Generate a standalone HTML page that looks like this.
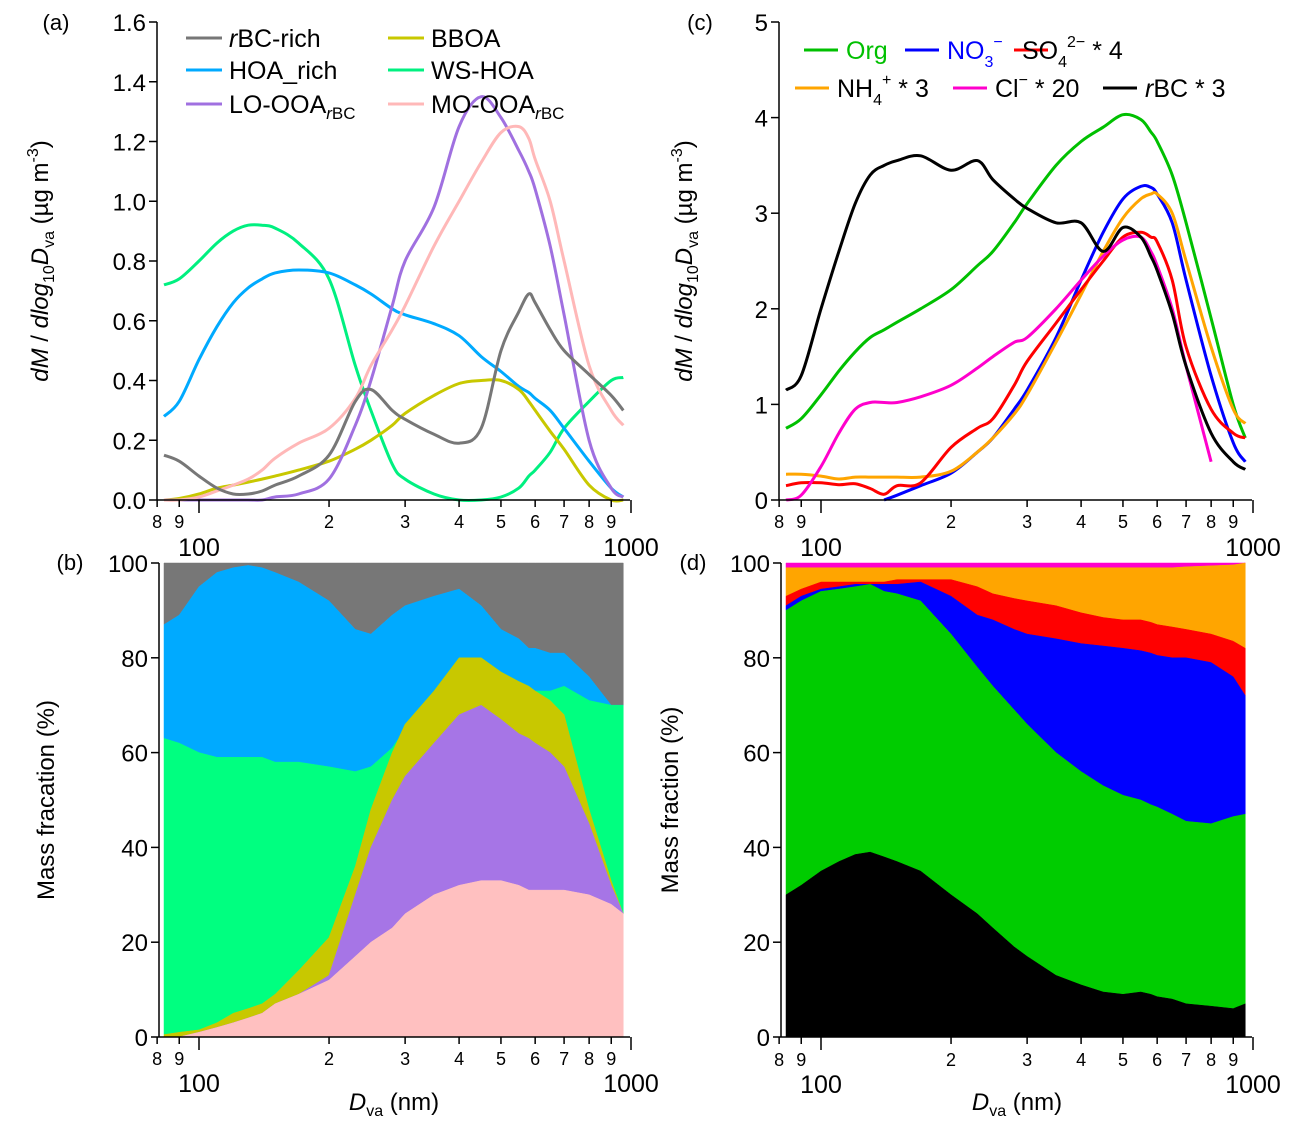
<!DOCTYPE html>
<html><head><meta charset="utf-8">
<style>
html,body{margin:0;padding:0;background:#fff;}
svg{display:block;font-family:"Liberation Sans",sans-serif;}
</style></head>
<body>
<svg id="chart" width="1299" height="1127" viewBox="0 0 1299 1127" xmlns="http://www.w3.org/2000/svg"></svg>
<script>
// ---------- data ----------
const sizes = [83,90,100,110,120,130,140,150,170,200,230,250,280,300,350,400,450,500,550,580,600,650,700,800,900,960];

// panel (a) PMF factor size distributions (ug m-3)
const aRbc  = [0.15,0.13,0.08,0.04,0.02,0.02,0.03,0.05,0.08,0.15,0.33,0.37,0.30,0.27,0.22,0.19,0.24,0.50,0.63,0.69,0.66,0.57,0.50,0.42,0.35,0.30];
const aHoa  = [0.28,0.33,0.47,0.58,0.66,0.71,0.74,0.76,0.77,0.76,0.72,0.69,0.64,0.62,0.59,0.55,0.48,0.43,0.38,0.36,0.34,0.30,0.24,0.13,0.04,0.01];
const aWs   = [0.72,0.74,0.80,0.86,0.90,0.92,0.92,0.91,0.86,0.74,0.45,0.30,0.12,0.07,0.02,0.00,0.00,0.01,0.04,0.08,0.10,0.16,0.24,0.33,0.40,0.41];
const aBboa = [0.00,0.005,0.02,0.04,0.05,0.06,0.07,0.08,0.10,0.13,0.17,0.20,0.25,0.29,0.35,0.39,0.40,0.40,0.37,0.33,0.30,0.23,0.17,0.05,0.00,0.00];
const aLo   = [0,0,0,0,0,0,0,0.01,0.02,0.07,0.25,0.40,0.65,0.80,0.98,1.25,1.35,1.28,1.17,1.10,1.04,0.85,0.62,0.20,0.04,0.01];
const aMo   = [0,0,0.01,0.03,0.05,0.07,0.10,0.14,0.19,0.24,0.34,0.45,0.57,0.65,0.85,1.00,1.13,1.23,1.25,1.21,1.14,1.00,0.80,0.45,0.30,0.25];

// panel (b) cumulative mass fractions (%)
const bPinkTop   = [0,0,1,2,3,4,5,7,9,12,17,20,23,26,30,32,33,33,32,31,31,31,31,30,28,26];
const bPurpleTop = [0,0,1,2,3,4,5,7,9,13,30,40,50,55,62,68,70,67,64,63,62,60,57,45,32,26];
const bOliveTop  = [0.5,1,1.5,3,5,6,7,9,14,21,36,48,60,66,73,80,80,77,75,74,73,71,68,48,33,26];
const bGreenTop  = [63,62,60,59,59,59,59,58,58,57,56,57,61,65,72,80,80,76,74,73,73,73,74,71,70,70];
const bBlueTop   = [87,89,95,98,99,99.5,99,98,96,92,86,85,89,91,93,94.5,91,86,84,82,82,81,81,76,70,70];
const bGrayTop   = [100,100,100,100,100,100,100,100,100,100,100,100,100,100,100,100,100,100,100,100,100,100,100,100,100,100];

// panel (c) species size distributions
const cOrg = [0.75,0.85,1.1,1.35,1.55,1.7,1.78,1.86,2.0,2.2,2.45,2.6,2.9,3.1,3.5,3.75,3.9,4.03,3.98,3.85,3.75,3.4,2.9,1.9,1.0,0.65];
const cNo3 = [null,null,null,null,null,null,0,0.05,0.15,0.28,0.5,0.65,0.95,1.15,1.7,2.3,2.8,3.15,3.28,3.27,3.2,2.9,2.3,1.3,0.6,0.4];
const cSo4 = [0.15,0.18,0.18,0.16,0.17,0.12,0.06,0.15,0.18,0.55,0.75,0.85,1.2,1.45,1.85,2.2,2.5,2.75,2.8,2.75,2.7,2.3,1.6,0.95,0.7,0.65];
const cNh4 = [0.27,0.27,0.25,0.22,0.24,0.24,0.24,0.24,0.24,0.3,0.5,0.65,0.9,1.1,1.65,2.15,2.6,2.95,3.15,3.2,3.2,3.0,2.5,1.6,0.95,0.8];
const cCl  = [0,0.05,0.35,0.7,0.95,1.02,1.02,1.02,1.08,1.2,1.38,1.5,1.65,1.7,2.0,2.3,2.55,2.72,2.75,2.6,2.45,2.0,1.4,0.4,null,null];
const cRbc = [1.15,1.3,2.0,2.6,3.1,3.4,3.5,3.55,3.6,3.45,3.55,3.35,3.15,3.05,2.9,2.9,2.6,2.85,2.75,2.55,2.4,1.95,1.4,0.7,0.4,0.32];

// panel (d) cumulative mass fractions (%)
const dBlackTop  = [30,32,35,37,38.5,39,38,37,35,30,26,23,19,17,13,11,9.5,9,9.5,9,8.5,8,7,6.5,6,7];
const dGreenTop  = [90,92,94,94.5,95,95.5,94,93.5,92,85,78,74,69,66,60,56,53,51,50,49,48.5,47,45.5,45,46.5,47];
const dBlueTop   = [91,93,94.5,95,95.5,95.5,95.5,95.5,96,93,89,88,86,85,84,83,82.5,82,81.5,81,80.5,80,80,79,76,72];
const dRedTop    = [93,94.5,96,96,96,96,96,96.5,96.5,96.5,95,93.5,92.5,92,91,89.5,88.5,88,88,87.5,87,86.5,86,85,83.5,82];
const dOrangeTop = [99,99,99,99,99,99,99,99,99,99,99,99,99,99,99,99,99,99,99,99,99,99,99.2,99.4,99.6,100];
const dMagTop    = [100,100,100,100,100,100,100,100,100,100,100,100,100,100,100,100,100,100,100,100,100,100,100,100,100,100];

const yTicksA = [0,0.2,0.4,0.6,0.8,1.0,1.2,1.4,1.6];
const yTicksC = [0,1,2,3,4,5];
const yTicksPct = [0,20,40,60,80,100];
const xMinor = [8,9,20,30,40,50,60,70,80,90]; // in units of 10 nm
const xMinorLbl = ['8','9','2','3','4','5','6','7','8','9'];

// ---------- helpers ----------
const NS='http://www.w3.org/2000/svg';
const svg=document.getElementById('chart');
function el(tag,attrs,parent){const e=document.createElementNS(NS,tag);for(const k in attrs)e.setAttribute(k,attrs[k]);(parent||svg).appendChild(e);return e;}
function txt(s,x,y,size,anchor,parent){const t=el('text',{x:x,y:y,'font-size':size,'text-anchor':anchor||'middle',fill:'#000'},parent);t.textContent=s;return t;}

function makeX(x100){return d=>x100+432*Math.log10(d/100);}
function makeY(y0,yTop,vmax){return v=>y0-(y0-yTop)*v/vmax;}

function drawAxes(g,X,Y,x0,x1,y0,yTop,ticks,fmt,minorLblY,majorLblY){
  el('line',{x1:x0,y1:y0,x2:x0,y2:yTop,stroke:'#000','stroke-width':1.5},g);
  el('line',{x1:x0,y1:y0,x2:x1,y2:y0,stroke:'#000','stroke-width':1.5},g);
  ticks.forEach(v=>{
    const y=Y(v);
    el('line',{x1:x0-8,y1:y,x2:x0,y2:y,stroke:'#000','stroke-width':1.5},g);
    const t=txt(fmt(v),x0-11,y+9,24,'end',g);
    
    
  });
  xMinor.forEach((m,i)=>{
    const x=X(m*10);
    el('line',{x1:x,y1:y0,x2:x,y2:y0+7,stroke:'#000','stroke-width':1.5},g);
    const t=txt(xMinorLbl[i],x,minorLblY,18,'middle',g);
    
    
  });
  [100,1000].forEach(d=>{
    const x=X(d);
    el('line',{x1:x,y1:y0,x2:x,y2:y0+13,stroke:'#000','stroke-width':1.5},g);
    const t=txt(String(d),x,majorLblY,25,'middle',g);
    
    
  });
}
function smoothSeg(pts){
  if(pts.length<2)return '';
  let d='M'+pts[0][0].toFixed(1)+','+pts[0][1].toFixed(1);
  for(let i=0;i<pts.length-1;i++){
    const p0=pts[Math.max(0,i-1)],p1=pts[i],p2=pts[i+1],p3=pts[Math.min(pts.length-1,i+2)];
    const c1x=p1[0]+(p2[0]-p0[0])/6,c1y=p1[1]+(p2[1]-p0[1])/6;
    const c2x=p2[0]-(p3[0]-p1[0])/6,c2y=p2[1]-(p3[1]-p1[1])/6;
    d+='C'+c1x.toFixed(1)+','+c1y.toFixed(1)+' '+c2x.toFixed(1)+','+c2y.toFixed(1)+' '+p2[0].toFixed(1)+','+p2[1].toFixed(1);
  }
  return d;
}
function linePath(X,Y,vals){
  let d='',seg=[];
  vals.forEach((v,i)=>{if(v===null){d+=smoothSeg(seg);seg=[];return;}seg.push([X(sizes[i]),Y(v)]);});
  return d+smoothSeg(seg);
}
function areaPath(X,Y,top,bot){
  let d='';
  top.forEach((v,i)=>{d+=(i?'L':'M')+X(sizes[i]).toFixed(1)+','+Y(v).toFixed(1);});
  for(let i=bot.length-1;i>=0;i--){d+='L'+X(sizes[i]).toFixed(1)+','+Y(bot[i]).toFixed(1);}
  return d+'Z';
}
const zeros=sizes.map(()=>0);
const yTitle='<tspan font-style="italic">dM</tspan> / <tspan font-style="italic">dlog</tspan><tspan font-size="16" dy="6">10</tspan><tspan font-style="italic" dy="-6">D</tspan><tspan font-size="16" dy="6">va</tspan><tspan dy="-6"> (µg  m</tspan><tspan font-size="16" dy="-10">-3</tspan><tspan dy="10">)</tspan>';

// ---------- panel (a) ----------
{
const g=el('g',{});
const X=makeX(199),Y=makeY(500,22,1.6);
const series=[[aWs,'#00f080','ws-hoa-line'],[aHoa,'#00aaff','hoa-rich-line'],[aBboa,'#c8c800','bboa-line'],[aLo,'#a070e0','lo-ooa-line'],[aMo,'#ffb8b8','mo-ooa-line'],[aRbc,'#777','rbc-rich-line']];
series.forEach(s=>{const p=el('path',{d:linePath(X,Y,s[0]),fill:'none',stroke:s[1],'stroke-width':3,'stroke-linejoin':'round'},g);
  });
drawAxes(g,X,Y,157,630,500,22,yTicksA,v=>v.toFixed(1),528,556);
txt('(a)',56,30,22,'middle',g);
const yt=el('text',{transform:'translate(48,261) rotate(-90)','font-size':24,'text-anchor':'middle'},g);

yt.innerHTML=yTitle;
const leg=[[186,38,'#777','<tspan font-style="italic">r</tspan>BC-rich','legend-rbc-rich'],[186,70,'#00aaff','HOA_rich','legend-hoa-rich'],[186,104,'#a070e0','LO-OOA<tspan font-size="17" dy="6" font-style="italic">r</tspan><tspan font-size="17">BC</tspan>','legend-lo-ooa'],
[388,38,'#c8c800','BBOA','legend-bboa'],[388,70,'#00f080','WS-HOA','legend-ws-hoa'],[388,104,'#ffb8b8','MO-OOA<tspan font-size="17" dy="6" font-style="italic">r</tspan><tspan font-size="17">BC</tspan>','legend-mo-ooa']];
leg.forEach(l=>{const lg=el('g',{},g);
  el('line',{x1:l[0],y1:l[1],x2:l[0]+36,y2:l[1],stroke:l[2],'stroke-width':3},lg);
  const t=el('text',{x:l[0]+43,y:l[1]+9,'font-size':25},lg);t.innerHTML=l[3];});
}

// ---------- panel (b) ----------
{
const g=el('g',{});
const X=makeX(199),Y=makeY(1037,563,100);
const layers=[[bGrayTop,bBlueTop,'#777777','area-rbc-rich'],[bBlueTop,bGreenTop,'#00aaff','area-hoa-rich'],[bGreenTop,bOliveTop,'#00ff80','area-ws-hoa'],[bOliveTop,bPurpleTop,'#c8c800','area-bboa'],[bPurpleTop,bPinkTop,'#a675e6','area-lo-ooa'],[bPinkTop,zeros,'#ffc0c0','area-mo-ooa']];
layers.forEach(l=>{const p=el('path',{d:areaPath(X,Y,l[0],l[1]),fill:l[2],stroke:l[2],'stroke-width':0.5},g);
  });
drawAxes(g,X,Y,159,630,1037,563,yTicksPct,v=>String(v),1065,1092);
txt('(b)',70,570,22,'middle',g);
const yt=el('text',{transform:'translate(54,800) rotate(-90)','font-size':24,'text-anchor':'middle'},g);
yt.textContent='Mass fracation (%)';
const xt=el('text',{x:394,y:1110,'font-size':24,'text-anchor':'middle'},g);
xt.innerHTML='<tspan font-style="italic">D</tspan><tspan font-size="16" dy="6">va</tspan><tspan dy="-6"> (nm)</tspan>';

}

// ---------- panel (c) ----------
{
const g=el('g',{});
const X=makeX(821),Y=makeY(500,22,5);
const series=[[cOrg,'#00c000','org-line'],[cNo3,'#0000ff','no3-line'],[cNh4,'#ffa500','nh4-line'],[cSo4,'#ff0000','so4-line'],[cCl,'#ff00cc','cl-line'],[cRbc,'#000','rbc-line']];
series.forEach(s=>{const p=el('path',{d:linePath(X,Y,s[0]),fill:'none',stroke:s[1],'stroke-width':3,'stroke-linejoin':'round'},g);
  });
drawAxes(g,X,Y,779,1252,500,22,yTicksC,v=>String(v),528,556);
txt('(c)',700,30,22,'middle',g);
const yt=el('text',{transform:'translate(692,261) rotate(-90)','font-size':24,'text-anchor':'middle'},g);

yt.innerHTML=yTitle;
const leg=[[804,50,'#00c000','<tspan fill="#00c000">Org</tspan>','legend-org'],[905,50,'#0000ff','<tspan fill="#0000ff">NO</tspan><tspan fill="#0000ff" font-size="16" dy="8">3</tspan><tspan fill="#0000ff" font-size="16" dy="-20">−</tspan>','legend-no3'],
[1014,50,'#ff0000','SO<tspan font-size="16" dy="8">4</tspan><tspan font-size="16" dy="-20">2−</tspan><tspan dy="12"> * 4</tspan>','legend-so4'],
[795,88,'#ffa500','NH<tspan font-size="16" dy="8">4</tspan><tspan font-size="16" dy="-20">+</tspan><tspan dy="12"> * 3</tspan>','legend-nh4'],[953,88,'#ff00cc','Cl<tspan font-size="16" dy="-12">−</tspan><tspan dy="12"> * 20</tspan>','legend-cl'],[1103,88,'#000','<tspan font-style="italic">r</tspan>BC * 3','legend-rbc']];
leg.forEach((l,i)=>{const lg=el('g',{},g);
  el('line',{x1:l[0],y1:l[1],x2:l[0]+34,y2:l[1],stroke:l[2],'stroke-width':3},lg);
  const off=(i===2)?8:42;
  const t=el('text',{x:l[0]+off,y:l[1]+9,'font-size':25},lg);t.innerHTML=l[3];});
}

// ---------- panel (d) ----------
{
const g=el('g',{});
const X=makeX(821),Y=makeY(1037,563,100);
const layers=[[dMagTop,dOrangeTop,'#ff00cc','area-cl'],[dOrangeTop,dRedTop,'#ffa500','area-nh4'],[dRedTop,dBlueTop,'#ff0000','area-so4'],[dBlueTop,dGreenTop,'#0000ff','area-no3'],[dGreenTop,dBlackTop,'#00cc00','area-org'],[dBlackTop,zeros,'#000000','area-rbc']];
layers.forEach(l=>{const p=el('path',{d:areaPath(X,Y,l[0],l[1]),fill:l[2],stroke:l[2],'stroke-width':0.5},g);
  });
drawAxes(g,X,Y,781,1252,1037,563,yTicksPct,v=>String(v),1066,1093);
txt('(d)',693,570,22,'middle',g);
const yt=el('text',{transform:'translate(678,800) rotate(-90)','font-size':24,'text-anchor':'middle'},g);
yt.textContent='Mass fraction (%)';
const xt=el('text',{x:1017,y:1110,'font-size':24,'text-anchor':'middle'},g);
xt.innerHTML='<tspan font-style="italic">D</tspan><tspan font-size="16" dy="6">va</tspan><tspan dy="-6"> (nm)</tspan>';

}
</script>
</body></html>
